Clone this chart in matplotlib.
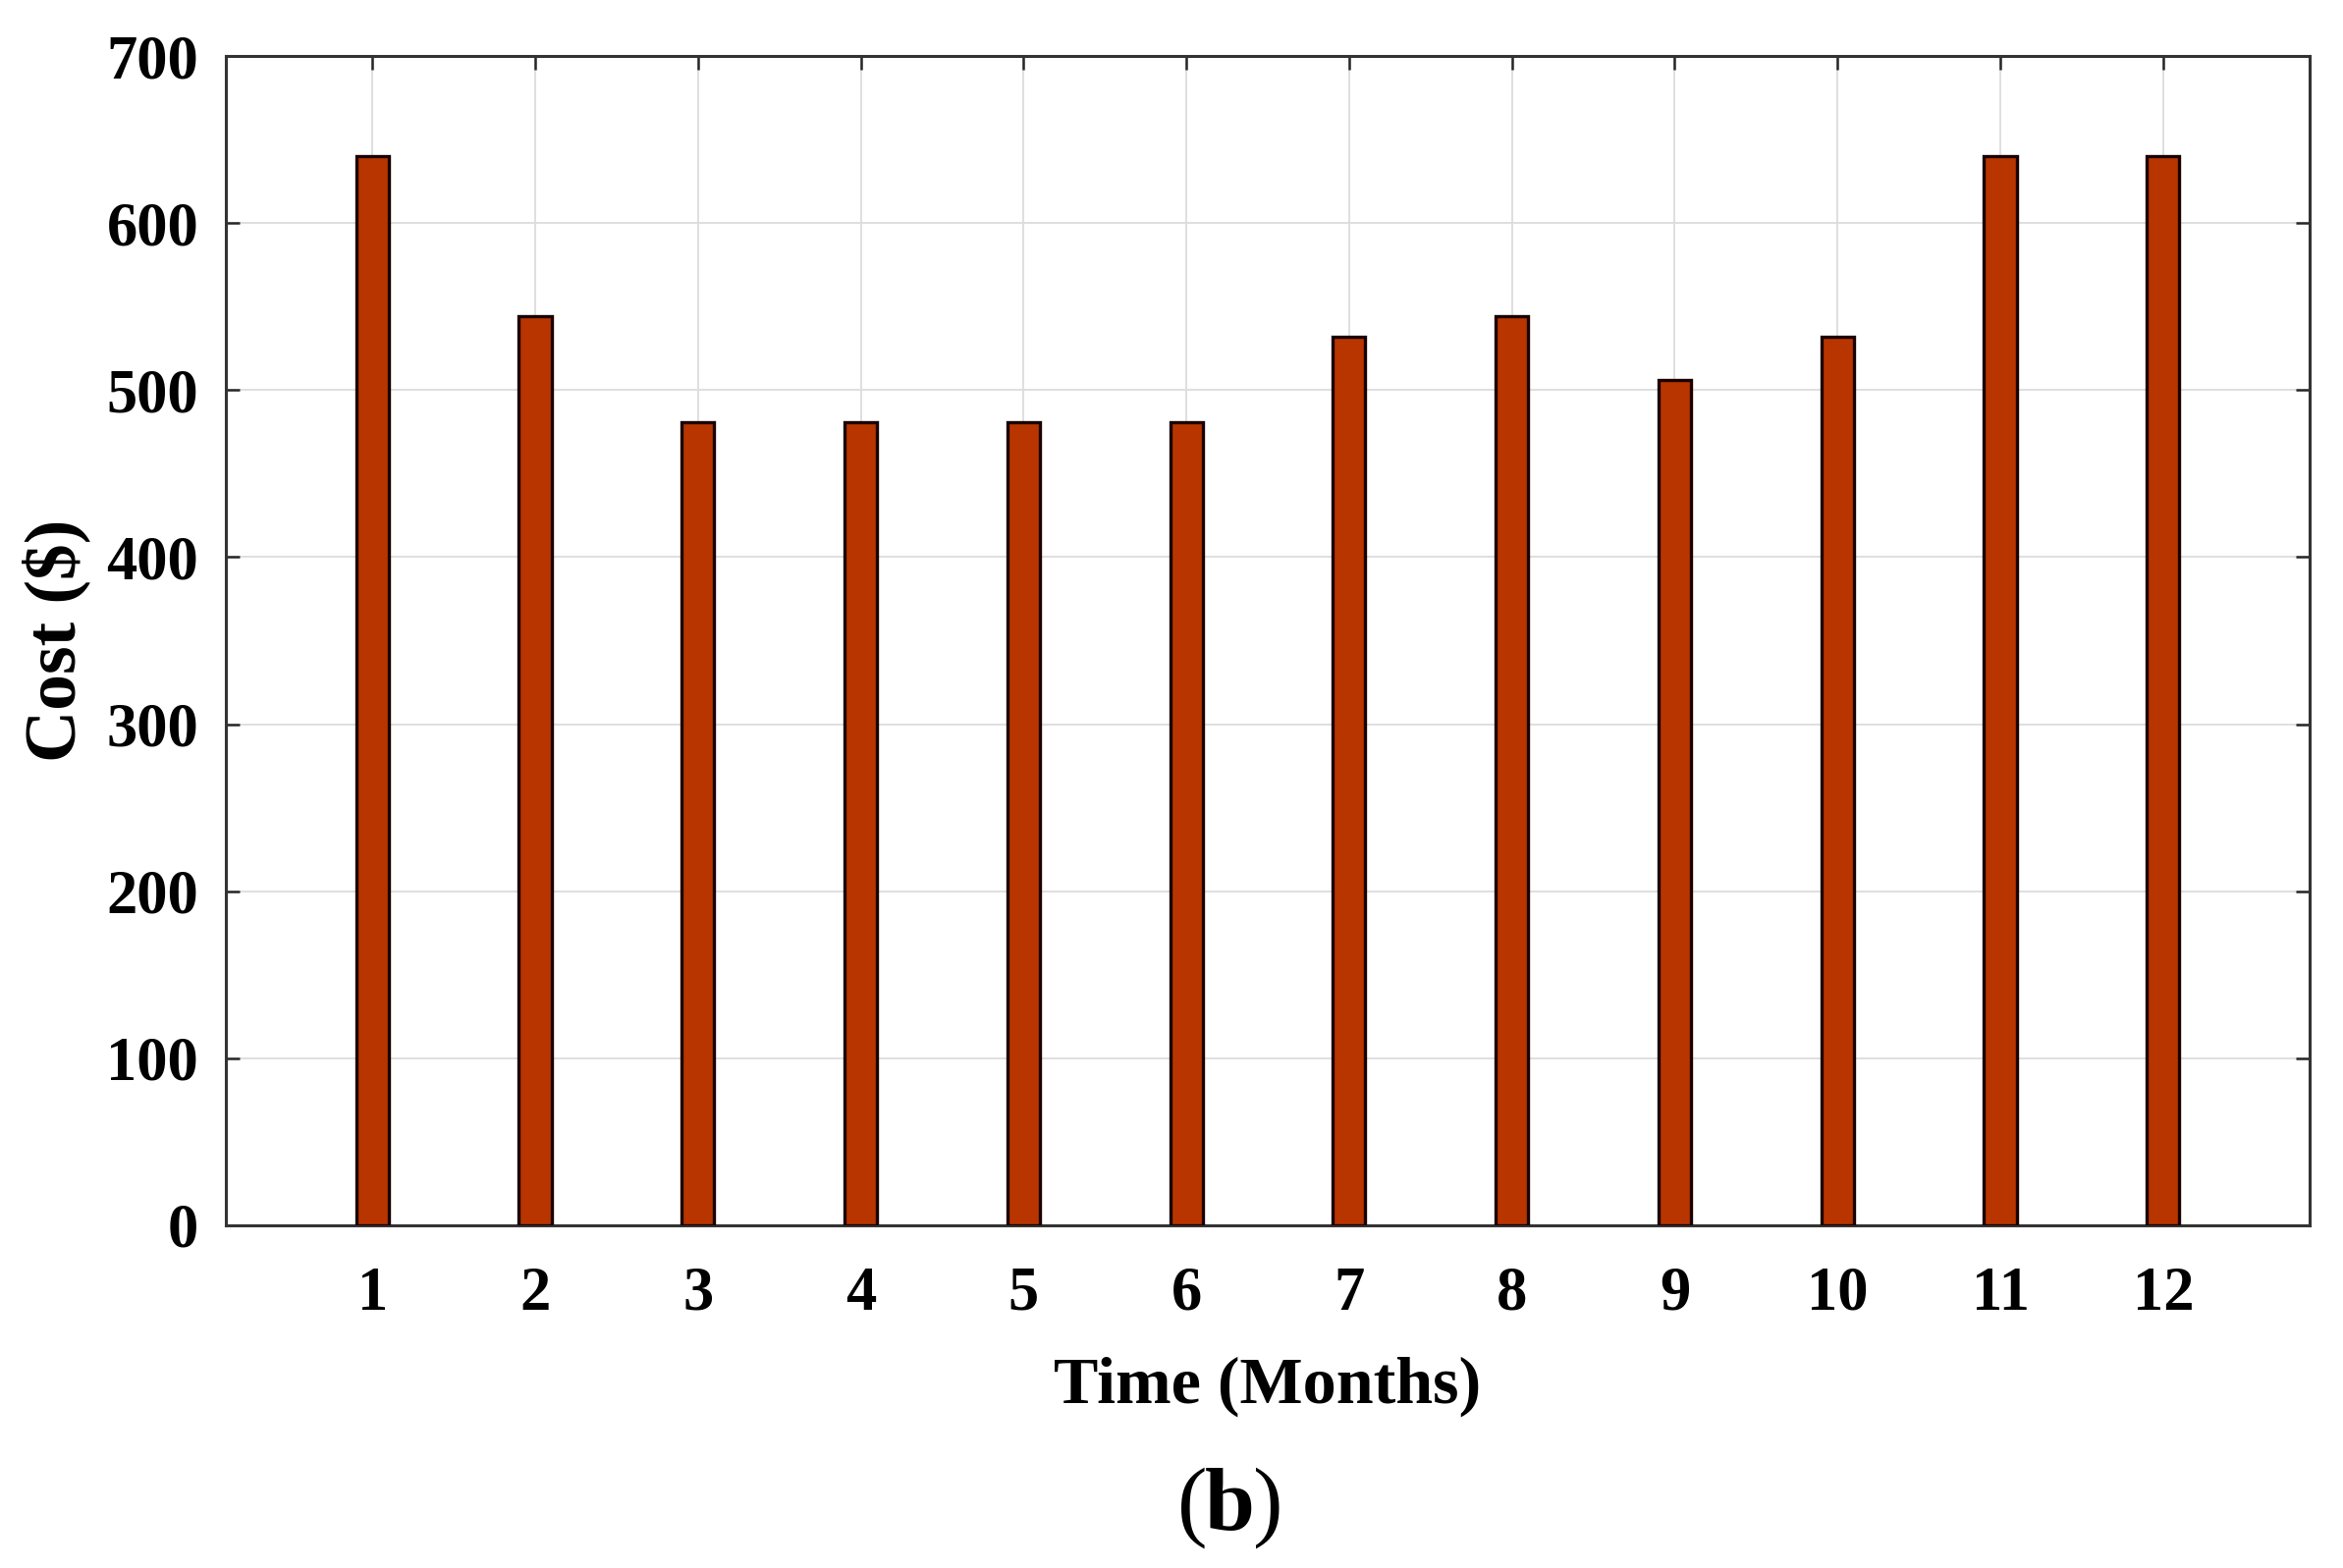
import matplotlib
matplotlib.use("Agg")
import matplotlib.pyplot as plt

months = [1, 2, 3, 4, 5, 6, 7, 8, 9, 10, 11, 12]
cost = [640, 544, 481, 481, 481, 481, 532, 544, 506, 532, 640, 640]
yticks = [0, 100, 200, 300, 400, 500, 600, 700]

plt.rcParams['font.family'] = ['Liberation Serif', 'DejaVu Serif']

W, H = 2386, 1597
fig = plt.figure(figsize=(23.86, 15.97), dpi=100)
ax = fig.add_axes([230/W, 1 - 1248/H, (2352-230)/W, (1248-57)/H])

ax.bar(months, cost, width=0.2, color='#B83500', edgecolor='#1a0000', linewidth=2.4, zorder=3)

ax.set_xlim(0.1, 12.9)
ax.set_ylim(0, 700)
ax.set_xticks(months)
ax.set_yticks(yticks)
ax.tick_params(axis='both', direction='in', length=10, width=1.8, top=True, right=True,
               labelsize=45, color='#262626')
ax.tick_params(axis='x', pad=30)
ax.tick_params(axis='y', pad=20)
for lab in ax.get_xticklabels() + ax.get_yticklabels():
    lab.set_fontweight('bold')

ax.grid(True, color='#dcdcdc', linewidth=1.3)
ax.set_axisbelow(True)
for s in ax.spines.values():
    s.set_color('#333333')
    s.set_linewidth(2.2)

ax.set_xlabel('Time (Months)', fontsize=49, fontweight='bold', labelpad=24)
ax.set_ylabel('Cost ($)', fontsize=53, fontweight='bold', labelpad=12)

yb = 1 - 1558/H
fig.text(1214/W, yb, '(', fontsize=66, fontweight='normal', ha='center', va='baseline')
fig.text(1252/W, yb, 'b', fontsize=66, fontweight='bold', ha='center', va='baseline')
fig.text(1291/W, yb, ')', fontsize=66, fontweight='normal', ha='center', va='baseline')

fig.savefig('out.png', dpi=100, facecolor='white')
